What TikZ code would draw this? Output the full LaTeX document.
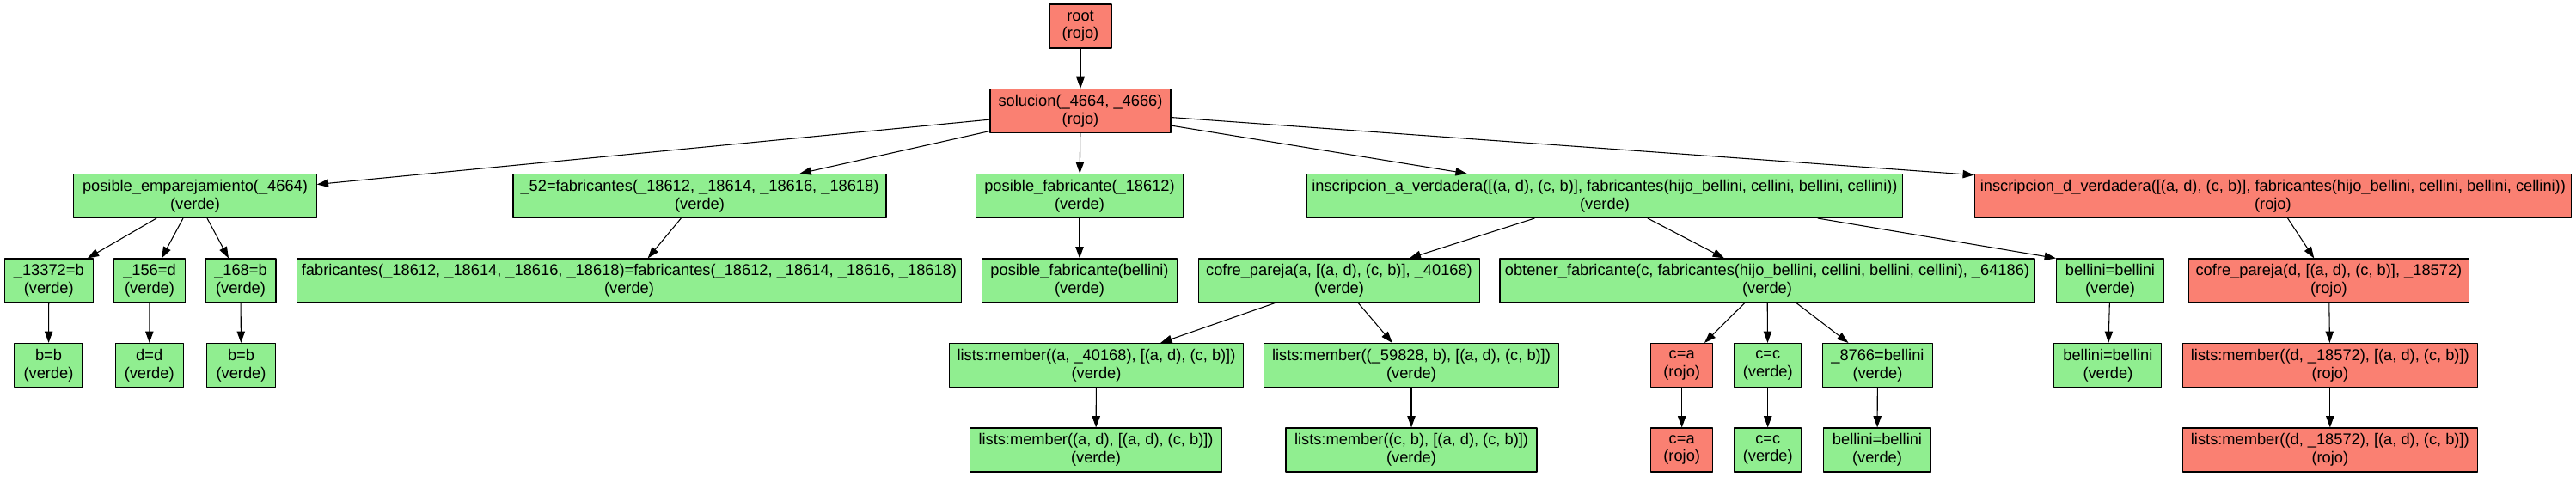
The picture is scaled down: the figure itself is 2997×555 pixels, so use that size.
\documentclass[tikz,border=0pt]{standalone}
\usepackage{fontspec}
\setmainfont{Liberation Sans}
\usetikzlibrary{arrows.meta}
\definecolor{salmon}{HTML}{FA8072}
\definecolor{lightgreen}{HTML}{90EE90}
\begin{document}
\begin{tikzpicture}[x=0.75pt,y=-0.75pt,font=\fontsize{13.7pt}{15.5pt}\selectfont,line join=round,
  caja/.style={draw,line width=0.8pt,align=center,inner xsep=4pt,inner ysep=0pt,minimum height=38.25pt},
  verde/.style={caja,fill=lightgreen},
  rojo/.style={caja,fill=salmon},
  arr/.style={-{Triangle[length=10pt,width=7pt]},line width=0.8pt}]
\useasboundingbox (0,0) rectangle (2997,555);
\node[rojo,minimum width=54pt] (root) at (1257,30.5) {root\\(rojo)};
\node[rojo,minimum width=157.5pt] (sol) at (1257,129) {solucion(\_4664, \_4666)\\(rojo)};
\node[verde,minimum width=211.8pt] (pe) at (227,228) {posible\_emparejamiento(\_4664)\\(verde)};
\node[verde,minimum width=325.5pt] (f52) at (814,228) {\_52=fabricantes(\_18612, \_18614, \_18616, \_18618)\\(verde)};
\node[verde,minimum width=180.5pt] (pf1) at (1256,228) {posible\_fabricante(\_18612)\\(verde)};
\node[verde,minimum width=519.5pt] (iav) at (1867,228) {inscripcion\_a\_verdadera([(a, d), (c, b)], fabricantes(hijo\_bellini, cellini, bellini, cellini))\\(verde)};
\node[rojo,minimum width=520.5pt] (idv) at (2644.4,228) {inscripcion\_d\_verdadera([(a, d), (c, b)], fabricantes(hijo\_bellini, cellini, bellini, cellini))\\(rojo)};
\node[verde,minimum width=77.5pt] (u1) at (56.8,326.5) {\_13372=b\\(verde)};
\node[verde,minimum width=62.25pt] (u2) at (174,326.5) {\_156=d\\(verde)};
\node[verde,minimum width=61.5pt] (u3) at (280,326.5) {\_168=b\\(verde)};
\node[verde,minimum width=580.2pt] (feq) at (732,326.5) {fabricantes(\_18612, \_18614, \_18616, \_18618)=fabricantes(\_18612, \_18614, \_18616, \_18618)\\(verde)};
\node[verde,minimum width=169.9pt] (pf2) at (1256,326.5) {posible\_fabricante(bellini)\\(verde)};
\node[verde,minimum width=245.3pt] (cpa) at (1558,326.5) {cofre\_pareja(a, [(a, d), (c, b)], \_40168)\\(verde)};
\node[verde,minimum width=466.5pt] (obt) at (2056,326.5) {obtener\_fabricante(c, fabricantes(hijo\_bellini, cellini, bellini, cellini), \_64186)\\(verde)};
\node[verde,minimum width=93.75pt] (bb3) at (2455,326.5) {bellini=bellini\\(verde)};
\node[rojo,minimum width=244.5pt] (cpd) at (2709.4,326.5) {cofre\_pareja(d, [(a, d), (c, b)], \_18572)\\(rojo)};
\node[verde,minimum width=59.25pt] (v1) at (56.5,425) {b=b\\(verde)};
\node[verde,minimum width=59.25pt] (v2) at (173.7,425) {d=d\\(verde)};
\node[verde,minimum width=60pt] (v3) at (280.5,425) {b=b\\(verde)};
\node[verde,minimum width=256.9pt] (lm1) at (1275.5,425) {lists:member((a, \_40168), [(a, d), (c, b)])\\(verde)};
\node[verde,minimum width=256.8pt] (lm2) at (1642,425) {lists:member((\_59828, b), [(a, d), (c, b)])\\(verde)};
\node[rojo,minimum width=54pt] (ca1) at (1956.7,425) {c=a\\(rojo)};
\node[verde,minimum width=58.8pt] (cc1) at (2056.7,425) {c=c\\(verde)};
\node[verde,minimum width=96pt] (bl1) at (2184.4,425) {\_8766=bellini\\(verde)};
\node[verde,minimum width=93.75pt] (bb4) at (2452.4,425) {bellini=bellini\\(verde)};
\node[rojo,minimum width=257.1pt] (lmd1) at (2710.8,425) {lists:member((d, \_18572), [(a, d), (c, b)])\\(rojo)};
\node[verde,minimum width=219.75pt] (lma) at (1275,523.5) {lists:member((a, d), [(a, d), (c, b)])\\(verde)};
\node[verde,minimum width=219pt] (lmc) at (1642,523.5) {lists:member((c, b), [(a, d), (c, b)])\\(verde)};
\node[rojo,minimum width=54pt] (ca2) at (1956.7,523.5) {c=a\\(rojo)};
\node[verde,minimum width=58.5pt] (cc2) at (2056.7,523.5) {c=c\\(verde)};
\node[verde,minimum width=93.4pt] (bl2) at (2184,523.5) {bellini=bellini\\(verde)};
\node[rojo,minimum width=257.25pt] (lmd2) at (2710.8,523.5) {lists:member((d, \_18572), [(a, d), (c, b)])\\(rojo)};
\draw[arr] (root) -- (sol);
\draw[arr] (sol) -- (pe);
\draw[arr] (sol) -- (f52);
\draw[arr] (sol) -- (pf1);
\draw[arr] (sol) -- (iav);
\draw[arr] (sol) -- (idv);
\draw[arr] (pe) -- (u1);
\draw[arr] (pe) -- (u2);
\draw[arr] (pe) -- (u3);
\draw[arr] (f52) -- (feq);
\draw[arr] (pf1) -- (pf2);
\draw[arr] (iav) -- (cpa);
\draw[arr] (iav) -- (obt);
\draw[arr] (iav.-6) -- (bb3.north west);
\draw[arr] (idv) -- (cpd);
\draw[arr] (u1) -- (v1);
\draw[arr] (u2) -- (v2);
\draw[arr] (u3) -- (v3);
\draw[arr] (cpa) -- (lm1);
\draw[arr] (cpa) -- (lm2);
\draw[arr] (obt) -- (ca1);
\draw[arr] (obt) -- (cc1);
\draw[arr] (obt) -- (bl1);
\draw[arr] (bb3) -- (bb4);
\draw[arr] (cpd) -- (lmd1);
\draw[arr] (lm1) -- (lma);
\draw[arr] (lm2) -- (lmc);
\draw[arr] (ca1) -- (ca2);
\draw[arr] (cc1) -- (cc2);
\draw[arr] (bl1) -- (bl2);
\draw[arr] (lmd1) -- (lmd2);
\end{tikzpicture}
\end{document}
